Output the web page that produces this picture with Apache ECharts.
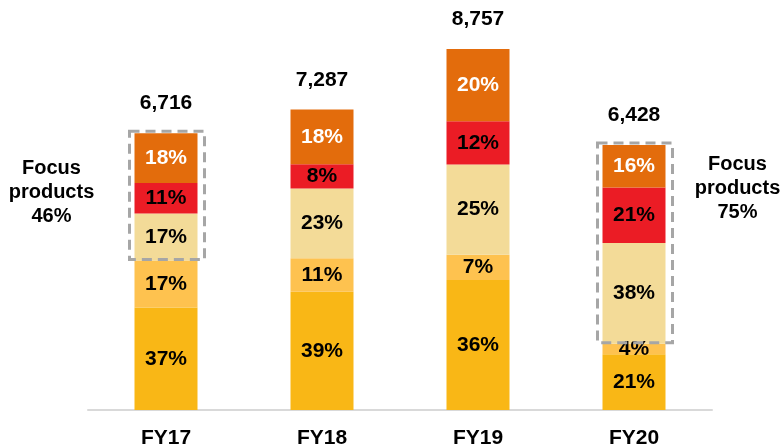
<!DOCTYPE html>
<html>
<head>
<meta charset="utf-8">
<script src="https://cdn.jsdelivr.net/npm/echarts@6/dist/echarts.min.js"></script>
<style>
  html, body { margin: 0; padding: 0; background: #fff; }
  #chart { width: 784px; height: 445px; }
</style>
</head>
<body>
<div id="chart"></div>
<script>
const categories = ["FY17", "FY18", "FY19", "FY20"]
const totals = [6716, 7287, 8757, 6428]

// shares of each year, bottom to top (%)
const share1 = [37, 39, 36, 21]
const share2 = [17, 11, 7, 4]
const share3 = [17, 23, 25, 38]
const share4 = [11, 8, 12, 21]
const share5 = [18, 18, 20, 16]

const colors = ["#F9B716", "#FEC24F", "#F3DB98", "#EB1C25", "#E36C0C"]
const labelColors = ["#000", "#000", "#000", "#000", "#fff"]

// focus product boxes
const focusCats = [0, 3]
const focusText = ["Focus\nproducts\n46%", "Focus\nproducts\n75%"]

const shares = [share1, share2, share3, share4, share5]
const shareSum = categories.map((c, i) => shares.reduce((s, a) => s + a[i], 0))

const font = "'Liberation Sans', Arial, sans-serif"

const series = shares.map((arr, k) => ({
    type: "bar",
    stack: "total",
    barWidth: 63,
    itemStyle: { color: colors[k] },
    label: {
        show: true,
        position: "inside",
        color: labelColors[k],
        fontFamily: font,
        fontWeight: "bold",
        fontSize: 21,
        formatter: (p) => arr[p.dataIndex] + "%",
    },
    data: arr.map((v, i) => (totals[i] * v) / shareSum[i]),
}))

// invisible zero bar on top, just to carry the total label
series.push({
    type: "bar",
    stack: "total",
    barWidth: 63,
    data: totals.map(() => 0),
    label: {
        show: true,
        position: "top",
        distance: 19,
        color: "#000",
        fontFamily: font,
        fontWeight: "bold",
        fontSize: 21,
        formatter: (p) => totals[p.dataIndex].toLocaleString("en-US"),
    },
})

const chart = echarts.init(document.getElementById("chart"), null, { renderer: "canvas" })

chart.setOption({
    animation: false,
    grid: { left: 88, right: 72, top: 39, bottom: 35, outerBoundsMode: "none", containLabel: false },
    xAxis: {
        type: "category",
        data: categories,
        axisTick: { show: false },
        axisLine: { lineStyle: { color: "#D9D9D9", width: 2 } },
        axisLabel: {
            color: "#000",
            fontFamily: font,
            fontWeight: "bold",
            fontSize: 21,
            margin: 18,
        },
    },
    yAxis: {
        type: "value",
        min: 0,
        max: 9000,
        show: false,
        splitLine: { show: false },
    },
    series: series,
})

// dashed boxes round the focus products (top three segments)
const graphics = []
focusCats.forEach((ci, n) => {
    const base = totals[ci] * (share1[ci] + share2[ci]) / shareSum[ci]
    const top = chart.convertToPixel({ seriesIndex: 0 }, [ci, totals[ci]])
    const bottom = chart.convertToPixel({ seriesIndex: 0 }, [ci, base])
    const w = 75
    graphics.push({
        type: "rect",
        shape: { x: top[0] + 1 - w / 2, y: top[1] - 2, width: w, height: bottom[1] - top[1] + 1 },
        style: { fill: null, stroke: "#A6A6A6", lineWidth: 3, lineDash: [10, 6] },
        z: 10,
    })
    const tx = n === 0 ? top[0] + 1 - w / 2 - 78 : top[0] + 1 + w / 2 + 65
    const ty = n === 0 ? top[1] + 59 : top[1] + 43
    graphics.push({
        type: "text",
        x: tx,
        y: ty,
        style: {
            text: focusText[n],
            fill: "#000",
            fontFamily: font,
            fontWeight: "bold",
            fontSize: 20,
            align: "center",
            verticalAlign: "middle",
            lineHeight: 24,
        },
        z: 10,
    })
})
chart.setOption({ graphic: graphics })
</script>
</body>
</html>
